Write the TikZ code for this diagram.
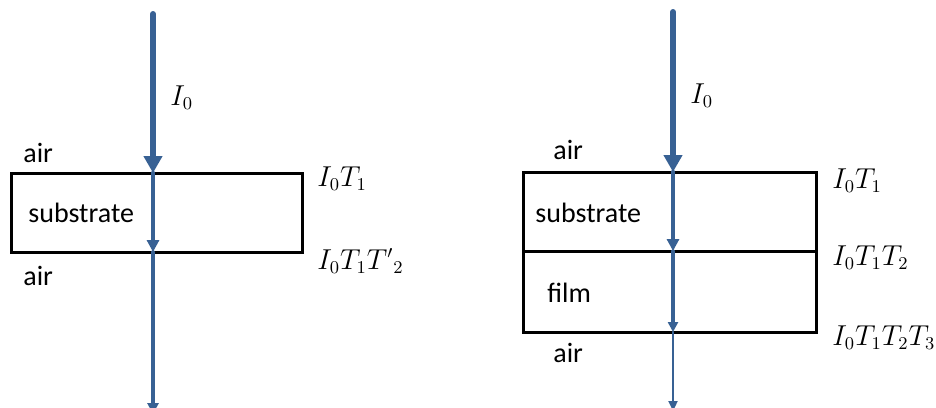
\documentclass[tikz,border=0pt]{standalone}
\usepackage[no-math]{fontspec}
\usepackage{amsmath}
\usetikzlibrary{arrows.meta}
\newfontfamily\labelfont{Carlito}
\definecolor{beamblue}{RGB}{56,97,148}
\tikzset{
    layer/.style={black,line width=1.5pt},
    medium/.style={anchor=base west,inner sep=0pt,font=\labelfont\fontsize{14}{16}\selectfont},
    intensity/.style={anchor=base west,inner sep=0pt,font=\fontsize{13.5}{16}\selectfont},
    beam/.style={draw=beamblue,line cap=round},
    beamthick/.style={beam,line width=3pt,-{Triangle[width=9pt,length=8.5pt]}},
    beammid/.style={beam,line width=2.3pt,-{Triangle[width=6pt,length=6pt]}},
    beamfilm/.style={beam,line width=1.6pt,-{Triangle[width=5pt,length=5pt]}},
    beamthin/.style={beam,line width=1.8pt,-{Triangle[width=5.5pt,length=5.5pt]}},
    beamhair/.style={beam,line width=1.1pt,-{Triangle[width=4.5pt,length=5pt]}}
}
\begin{document}
\begin{tikzpicture}[x=0.5pt,y=-0.5pt]
\useasboundingbox (0,0) rectangle (936,407);
% substrate only
\draw[layer](11,173) rectangle (302,252);
\coordinate (srcL) at (153,14);
\coordinate (inL) at (153,173);
\coordinate (outL) at (153,252);
\coordinate (endL) at (153,414);
\draw[beamthick](srcL)--(inL);
\draw[beammid](inL)--(outL);
\draw[beamthin](outL)--(endL);
\node[intensity] (I0L) at (170,105) {$I_0$};
\node[medium] (airTopL) at (23,162) {air};
\node[medium] (subL) at (28,222) {substrate};
\node[medium] (airBotL) at (23,285) {air};
\node[intensity] (outL1) at (317,186) {$I_0T_1$};
\node[intensity] (outL2) at (317,269) {$I_0T_1T'{}_2$};

% substrate with film
\draw[layer](523,172) rectangle (816,332);
\draw[layer](523,251)--(816,251);
\coordinate (srcR) at (673,12);
\coordinate (inR) at (673,172);
\coordinate (midR) at (673,251);
\coordinate (outR) at (673,332);
\coordinate (endR) at (673,411);
\draw[beamthick](srcR)--(inR);
\draw[beammid](inR)--(midR);
\draw[beamfilm](midR)--(outR);
\draw[beamhair](outR)--(endR);
\node[intensity] (I0R) at (690,103) {$I_0$};
\node[medium] (airTopR) at (553,159) {air};
\node[medium] (subR) at (535,222) {substrate};
\node[medium] (filmR) at (547,302) {film};
\node[medium] (airBotR) at (553,362) {air};
\node[intensity] (outR1) at (832,188) {$I_0T_1$};
\node[intensity] (outR2) at (832,265) {$I_0T_1T_2$};
\node[intensity] (outR3) at (832,345) {$I_0T_1T_2T_3$};
\end{tikzpicture}
\end{document}
